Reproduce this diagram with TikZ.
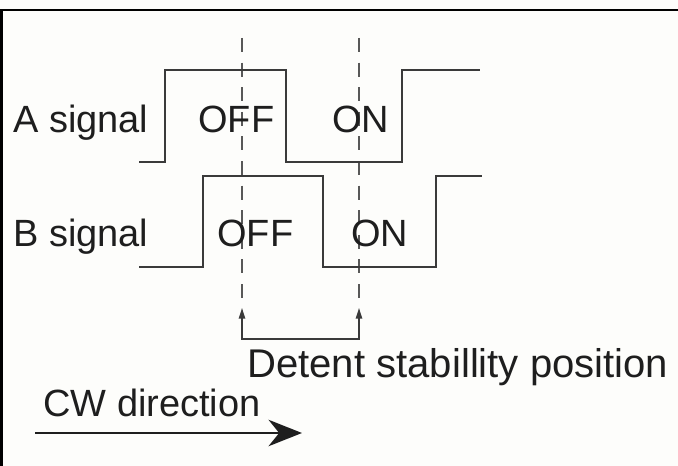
\documentclass[tikz,border=0pt]{standalone}
\usepackage{fontspec}
\setmainfont{Liberation Sans}
\usepackage{xcolor}
\usepackage{tikz}
\usetikzlibrary{arrows.meta}
\definecolor{dtink}{HTML}{1E1E1E}
\definecolor{dtline}{HTML}{3A3A3A}
\definecolor{dtpaper}{HTML}{FDFDFB}

\begin{document}
\begin{tikzpicture}[
    x=1cm,y=1cm,
    frame/.style={draw=black, line width=1.5pt},
    wave/.style={draw=dtline, line width=1.1pt, line join=miter},
    guide/.style={draw=dtline!85, line width=0.9pt, dash pattern=on 8pt off 6pt},
    label/.style={font=\fontsize{21.6}{26}\selectfont, text=dtink, anchor=base west, inner sep=0pt},
    pointer/.style={draw=dtline, line width=0.9pt, {Triangle[length=6pt,width=3.6pt]}-{Triangle[length=6pt,width=3.6pt]}},
    flow/.style={draw=dtink, line width=1.7pt, -{Stealth[length=19pt,width=15pt,inset=6pt]}}
  ]
    \fill[dtpaper] (0,0) rectangle (13.56,9.32);
    \useasboundingbox (0,0) rectangle (13.56,9.32);
    \draw[frame] (0.03,0) -- (0.03,9.12) -- (13.56,9.12);

    \coordinate (d1top) at (4.84,8.56);
    \coordinate (d1end) at (4.84,3.34);
    \coordinate (d1tip) at (4.84,3.16);
    \coordinate (d1foot) at (4.84,2.54);
    \coordinate (d2top) at (7.18,8.56);
    \coordinate (d2end) at (7.18,3.34);
    \coordinate (d2tip) at (7.18,3.16);
    \coordinate (d2foot) at (7.18,2.54);

    \draw[guide] (d1top) -- (d1end);
    \draw[guide] (d2top) -- (d2end);

    % A and B pulse trains
    \draw[wave] (2.78,6.08) -- (3.30,6.08) -- (3.30,7.92) -- (5.72,7.92) -- (5.72,6.08)
        -- (8.04,6.08) -- (8.04,7.92) -- (9.60,7.92);
    \draw[wave] (2.78,3.98) -- (4.06,3.98) -- (4.06,5.80) -- (6.46,5.80) -- (6.46,3.98)
        -- (8.72,3.98) -- (8.72,5.80) -- (9.64,5.80);

    \node[label] (asig) at (0.26,6.66) {A signal};
    \node[label] (bsig) at (0.26,4.38) {B signal};
    \node[label] (aoff) at (3.96,6.66) {OFF};
    \node[label] (aon) at (6.64,6.66) {ON};
    \node[label] (boff) at (4.34,4.38) {OFF};
    \node[label] (bon) at (7.02,4.38) {ON};

    \draw[pointer] (d1tip) -- (d1foot) -- (d2foot) -- (d2tip);
    \node[label, font=\fontsize{22.8}{27}\selectfont] (detent) at (4.94,1.76) {Detent stabillity position};

    \node[label] (cwtext) at (0.86,0.98) {CW direction};
    \coordinate (cwstart) at (0.70,0.66);
    \coordinate (cwend) at (6.04,0.66);
    \draw[flow] (cwstart) -- (cwend);
  \end{tikzpicture}
\end{document}
